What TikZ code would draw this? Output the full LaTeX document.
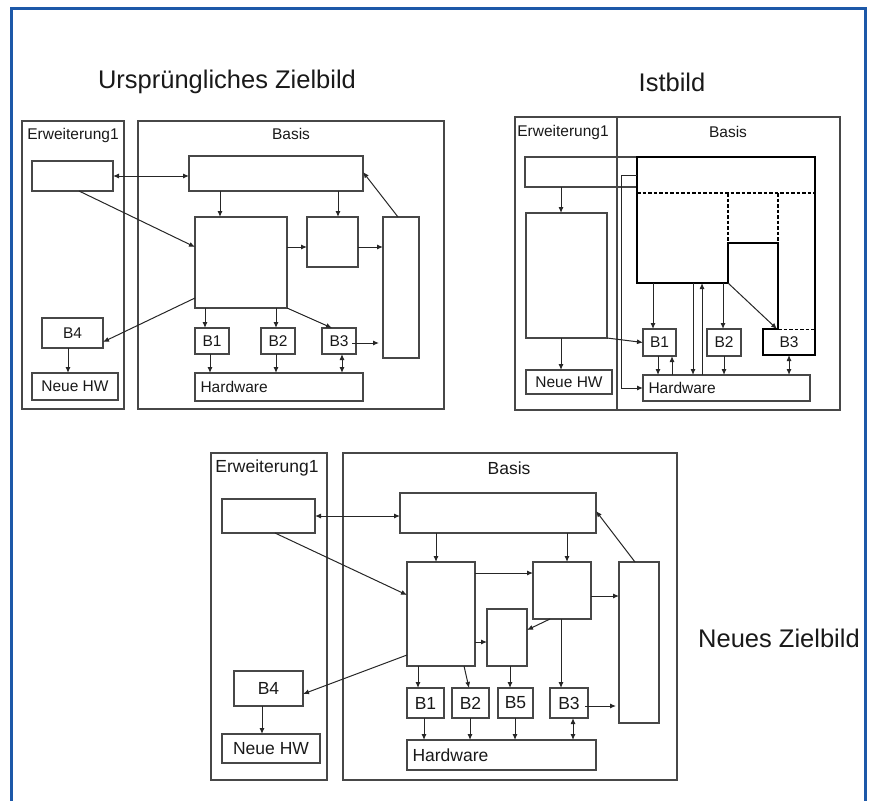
\documentclass[tikz,border=0pt]{standalone}
\usepackage{fontspec}
\setmainfont{Liberation Sans}
\usepackage{xcolor}
\usetikzlibrary{arrows.meta,fit,calc}
\definecolor{rahmenblau}{RGB}{28,88,168}

\begin{document}
\begin{tikzpicture}[x=1pt, y=-1pt, every node/.style={font=\fontsize{15.5}{17}\selectfont, text=black!90}, blk/.style={draw=black!72, line width=1.3pt, inner sep=0pt, outer sep=0pt}, titel/.style={font=\fontsize{25.5}{28}\selectfont}, arr/.style={-{Latex[length=6pt,width=5pt]}, line width=1pt, black!85}, darr/.style={{Latex[length=6pt,width=5pt]}-{Latex[length=6pt,width=5pt]}, line width=1pt, black!85}, kern/.style={line width=2.2pt, line join=miter}, grenz/.style={line width=1.2pt, dash pattern=on 3.5pt off 2pt}, hw/.style={label={[anchor=west, xshift=2pt]west:Hardware}}]
\useasboundingbox (0,0) rectangle (874,800);
\draw[rahmenblau, line width=3pt] (11,815) |- (865,9) -- (865,815);

% titles
\node[titel] (tUrs) at (227,82) {Ursprüngliches Zielbild};
\node[titel] (tIst) at (672,82) {Istbild};
\node[titel] (tNeu) at (779,638) {Neues Zielbild};

% ursprüngliches Zielbild
\node[blk, fit={(22,121) (124,409)}] (uErw) {};
\node[blk, fit={(138,121) (444,409)}] (uBas) {};
\node (uErwT) at (73,135) {Erweiterung1};
\node (uBasT) at (291,134) {Basis};
\node[blk, fit={(32,161) (113,191)}] (uExt) {};
\node[blk, fit={(189,156) (363,191)}] (uTop) {};
\node[blk, fit={(195,217) (287,308)}] (uMain) {};
\node[blk, fit={(307,217) (358,267)}] (uSq) {};
\node[blk, fit={(383,217) (419,358)}] (uTall) {};
\node[blk, fit={(42,318) (103,348)}, label=center:B4] (uB4) {};
\node[blk, fit={(32,373) (118,400)}, label=center:Neue HW] (uHW) {};
\node[blk, fit={(195,328) (229,354)}, label=center:B1] (uB1) {};
\node[blk, fit={(261,328) (295,354)}, label=center:B2] (uB2) {};
\node[blk, fit={(322,328) (356,354)}, label=center:B3] (uB3) {};
\node[blk, fit={(195,373) (363,401)}, hw] (uHard) {};
\draw[darr] (uExt.east) -- (uExt.east -| uTop.west);
\draw[arr] ([xshift=47]uExt.south west) -- ([yshift=-30]uMain.north west);
\draw[arr] ([xshift=25]uMain.north west |- uTop.south) -- ([xshift=25]uMain.north west);
\draw[arr] ([xshift=31]uSq.north west |- uTop.south) -- ([xshift=31]uSq.north west);
\draw[arr] ([yshift=-30]uMain.north east) -- ([yshift=-30]uMain.north east -| uSq.west);
\draw[arr] ([yshift=-30]uSq.north east) -- ([yshift=-30]uSq.north east -| uTall.west);
\draw[arr] ([xshift=15]uTall.north west) -- ([yshift=-16]uTop.north east);
\draw[arr] ([yshift=10]uMain.south west) -- ([yshift=6]uB4.south east);
\draw[arr] ([xshift=10]uB1.north west |- uMain.south) -- ([xshift=10]uB1.north west);
\draw[arr] ([xshift=15]uB2.north west |- uMain.south) -- ([xshift=15]uB2.north west);
\draw[arr] (uMain.south east) -- ([xshift=10]uB3.north west);
\draw[arr] ([xshift=-4,yshift=-2]uB3.east) -- ([xshift=-4,yshift=-2]uB3.east -| uTall.west);
\draw[arr] ([xshift=15]uB1.south west) -- ([xshift=15]uB1.south west |- uHard.north);
\draw[arr] ([xshift=15]uB2.south west) -- ([xshift=15]uB2.south west |- uHard.north);
\draw[darr] ([xshift=20]uB3.south west) -- ([xshift=20]uB3.south west |- uHard.north);
\draw[arr] ([xshift=26]uB4.south west) -- ([xshift=26]uB4.south west |- uHW.north);

% Istbild
\node[blk, fit={(515,117) (617,410)}] (iErw) {};
\node[blk, fit={(617,117) (840,410)}] (iBas) {};
\node (iErwT) at (563,132) {Erweiterung1};
\node (iBasT) at (728,132) {Basis};
\node[blk, fit={(525,157) (637,187)}] (iExt) {};
\node[blk, fit={(526,213) (607,338)}] (iTall) {};
\node[blk, fit={(526,370) (612,394)}, label=center:Neue HW] (iHW) {};
\node[blk, fit={(643,329) (676,356)}, label=center:B1] (iB1) {};
\node[blk, fit={(707,329) (741,356)}, label=center:B2] (iB2) {};
\node[blk, draw=none, fit={(763,329) (815,355)}, label=center:B3] (iB3) {};
\node[blk, fit={(643,375) (810,401)}, hw] (iHard) {};
\coordinate (iCoreNW) at (637,157);
\coordinate (iCoreSW) at (637,283);
\coordinate (iCoreSE) at (728,283);
\draw[kern] (iCoreNW) -- (815,157) -- (815,355) -- (763,355) -- (763,329) -- (778,329) -- (778,243) -- (728,243) -- (iCoreSE) -- (iCoreSW) -- cycle;
\draw[grenz] (637,193) -- (815,193);
\draw[grenz] (728,193) -- (728,243);
\draw[grenz] (778,193) -- (778,243);
\draw[grenz, line width=0.9pt] (778,329) -- (815,329);
\draw[arr] ([xshift=35]iTall.north west |- iExt.south) -- ([xshift=35]iTall.north west);
\draw[arr] ([xshift=35]iTall.south west) -- ([xshift=35]iTall.south west |- iHW.north);
\draw[arr] (iTall.south east) -- (iB1.west);
\draw[arr] ([xshift=10]iB1.north west |- iCoreSW) -- ([xshift=10]iB1.north west);
\draw[arr] ([xshift=16]iB2.north west |- iCoreSW) -- ([xshift=16]iB2.north west);
\draw[arr] (iCoreSE) -- ([xshift=14]iB3.north west);
\draw[arr] ([xshift=15]iB1.south west) -- ([xshift=15]iB1.south west |- iHard.north);
\draw[arr] ([xshift=29]iB1.south west |- iHard.north) -- ([xshift=29]iB1.south west);
\draw[arr] ([xshift=56]iCoreSW) -- ([xshift=56]iCoreSW |- iHard.north);
\draw[arr] ([xshift=65]iCoreSW |- iHard.north) -- ([xshift=65]iCoreSW);
\draw[arr] ([xshift=17]iB2.south west) -- ([xshift=17]iB2.south west |- iHard.north);
\draw[darr] ([xshift=26]iB3.south west) -- ([xshift=26]iB3.south west |- iHard.north);
\draw[arr] ([yshift=-18]iCoreNW) -- ++(-16,0) |- (iHard.west);

% Neues Zielbild
\begin{scope}[every node/.append style={font=\fontsize{17.5}{19}\selectfont}, every label/.append style={font=\fontsize{17.5}{19}\selectfont}]
\node[blk, fit={(211,453) (327,780)}] (nErw) {};
\node[blk, fit={(343,453) (677,780)}] (nBas) {};
\node (nErwT) at (267,468) {Erweiterung1};
\node (nBasT) at (509,468) {Basis};
\node[blk, fit={(222,499) (315,533)}] (nExt) {};
\node[blk, fit={(400,493) (596,533)}] (nTop) {};
\node[blk, fit={(407,562) (475,666)}] (nMain) {};
\node[blk, fit={(533,562) (591,619)}] (nSq) {};
\node[blk, fit={(487,609) (527,666)}] (nMid) {};
\node[blk, fit={(619,562) (659,723)}] (nTall) {};
\node[blk, fit={(234,671) (303,706)}, label=center:B4] (nB4) {};
\node[blk, fit={(222,734) (320,763)}, label=center:Neue HW] (nHW) {};
\node[blk, fit={(407,688) (444,718)}, label=center:B1] (nB1) {};
\node[blk, fit={(452,688) (489,718)}, label=center:B2] (nB2) {};
\node[blk, fit={(498,688) (533,718)}, label=center:B5] (nB5) {};
\node[blk, fit={(550,688) (588,718)}, label=center:B3] (nB3) {};
\node[blk, fit={(407,740) (596,770)}, hw] (nHard) {};
\end{scope}
\draw[darr] (nExt.east) -- (nExt.east -| nTop.west);
\draw[arr] ([xshift=53]nExt.south west) -- ([yshift=-33]nMain.north west);
\draw[arr] ([xshift=29]nMain.north west |- nTop.south) -- ([xshift=29]nMain.north west);
\draw[arr] ([xshift=34]nSq.north west |- nTop.south) -- ([xshift=34]nSq.north west);
\draw[arr] ([yshift=-11]nMain.north east) -- ([yshift=-11]nMain.north east -| nSq.west);
\draw[arr] ([yshift=-34]nSq.north east) -- ([yshift=-34]nSq.north east -| nTall.west);
\draw[arr] ([xshift=16]nTall.north west) -- ([yshift=-18]nTop.north east);
\draw[arr] ([xshift=17]nSq.south west) -- ([yshift=-21]nMid.north east);
\draw[arr] ([yshift=-80]nMain.north east) -- ([yshift=-80]nMain.north east -| nMid.west);
\draw[arr] ([yshift=11]nMain.south west) -- ([yshift=12]nB4.south east);
\draw[arr] ([xshift=11]nB1.north west |- nMain.south) -- ([xshift=11]nB1.north west);
\draw[arr] ([xshift=-11]nMain.south east) -- ([xshift=17]nB2.north west);
\draw[arr] ([xshift=23]nMid.south west) -- ([xshift=23]nMid.south west |- nB5.north);
\draw[arr] ([xshift=28]nSq.south west) -- ([xshift=28]nSq.south west |- nB3.north);
\draw[arr] ([xshift=-3,yshift=-3]nB3.east) -- ([xshift=-3,yshift=-3]nB3.east -| nTall.west);
\draw[arr] ([xshift=17]nB1.south west) -- ([xshift=17]nB1.south west |- nHard.north);
\draw[arr] ([xshift=18]nB2.south west) -- ([xshift=18]nB2.south west |- nHard.north);
\draw[arr] ([xshift=17]nB5.south west) -- ([xshift=17]nB5.south west |- nHard.north);
\draw[darr] ([xshift=23]nB3.south west) -- ([xshift=23]nB3.south west |- nHard.north);
\draw[arr] ([xshift=28]nB4.south west) -- ([xshift=28]nB4.south west |- nHW.north);
\end{tikzpicture}
\end{document}
